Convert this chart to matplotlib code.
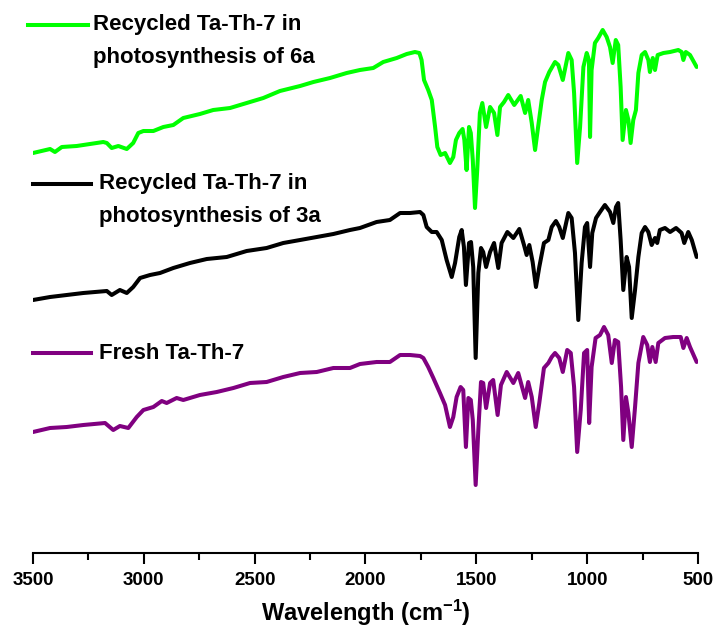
import matplotlib
matplotlib.use("Agg")
import matplotlib.pyplot as plt
from matplotlib.ticker import MultipleLocator
from matplotlib.lines import Line2D

plt.rcParams['font.family'] = ['Liberation Sans', 'DejaVu Sans']
plt.rcParams['font.weight'] = 'bold'
plt.rcParams['mathtext.fontset'] = 'custom'
plt.rcParams['mathtext.rm'] = 'Liberation Sans:bold'
plt.rcParams['mathtext.default'] = 'rm'

# FTIR spectra, wavenumber (cm-1) vs transmittance (arbitrary, offset)
wn_6a = [3500, 3423, 3401, 3370, 3303, 3243, 3183, 3167, 3145, 3115, 3077, 3048, 3025, 3002,
         2957, 2912, 2867, 2822, 2747, 2687, 2611, 2536, 2461, 2386, 2295, 2235, 2160, 2085,
         2025, 1965, 1920, 1859, 1814, 1777, 1757, 1747, 1736, 1717, 1701, 1686, 1676, 1661,
         1641, 1619, 1604, 1592, 1577, 1562, 1554, 1544, 1533, 1525, 1516, 1506, 1496, 1484,
         1473, 1456, 1438, 1420, 1405, 1393, 1375, 1356, 1329, 1300, 1280, 1266, 1250, 1235,
         1225, 1205, 1190, 1171, 1145, 1130, 1110, 1085, 1070, 1059, 1045, 1032, 1017, 1002,
         992, 987, 980, 965, 950, 930, 912, 897, 885, 871, 860, 849, 840, 825, 814, 804, 792,
         780, 769, 754, 739, 724, 717, 704, 694, 682, 656, 626, 589, 574, 566, 555, 536, 506]
tr_6a = [447, 451, 448, 453, 454, 456, 458, 457, 452, 454, 451, 457, 467, 469,
         469, 473, 475, 482, 486, 490, 492, 497, 502, 509, 514, 518, 522, 527,
         530, 532, 538, 542, 546, 548, 547, 540, 520, 510, 500, 473, 453, 445,
         447, 437, 443, 460, 467, 471, 460, 430, 473, 467, 440, 392, 430, 487,
         497, 473, 493, 487, 465, 493, 498, 505, 495, 504, 487, 500, 477, 450,
         467, 500, 518, 528, 538, 535, 520, 547, 540, 507, 437, 473, 533, 547,
         540, 463, 530, 557, 562, 570, 563, 553, 537, 560, 555, 513, 460, 490, 480, 457, 480,
         490, 527, 545, 548, 540, 528, 542, 530, 545, 547, 548, 550, 548, 540, 548, 545, 533]

wn_3a = [3500, 3423, 3348, 3273, 3167, 3145, 3108, 3077, 3048, 3017, 2972, 2927, 2867, 2792,
         2716, 2626, 2536, 2446, 2371, 2295, 2220, 2145, 2070, 2025, 1950, 1890, 1844, 1799,
         1754, 1739, 1724, 1701, 1679, 1656, 1634, 1611, 1596, 1577, 1566, 1556, 1547, 1533,
         1524, 1514, 1503, 1491, 1479, 1469, 1456, 1438, 1420, 1401, 1386, 1360, 1333, 1306,
         1285, 1273, 1261, 1246, 1231, 1216, 1195, 1175, 1160, 1141, 1126, 1110, 1085, 1070,
         1055, 1040, 1025, 1010, 1000, 987, 977, 960, 942, 920, 897, 882, 870, 860, 849, 837,
         822, 811, 799, 784, 769, 754, 739, 724, 709, 694, 684, 672, 649, 626, 599, 574, 562,
         544, 528, 506]
tr_3a = [300, 303, 305, 307, 309, 305, 310, 307, 313, 322, 325, 327, 332, 337,
         341, 343, 349, 352, 357, 360, 363, 366, 370, 372, 378, 380, 387, 387,
         388, 385, 373, 368, 368, 360, 340, 323, 337, 363, 370, 353, 315, 357,
         358, 333, 242, 327, 352, 348, 333, 348, 357, 332, 357, 368, 362, 371,
         355, 345, 355, 338, 313, 333, 357, 360, 373, 379, 373, 362, 387, 382,
         347, 280, 337, 373, 377, 333, 367, 382, 388, 395, 388, 377, 393, 397, 360, 310,
         343, 333, 282, 310, 343, 367, 373, 368, 355, 362, 357, 370, 372, 368, 372, 367, 357,
         368, 360, 343]

wn_fresh = [3500, 3423, 3348, 3273, 3175, 3138, 3108, 3070, 3032, 3002, 2957, 2919, 2897, 2852,
            2822, 2747, 2671, 2596, 2521, 2446, 2371, 2295, 2220, 2145, 2070, 2025, 1950, 1890,
            1844, 1799, 1754, 1739, 1717, 1694, 1664, 1641, 1619, 1604, 1589, 1571, 1559, 1547,
            1536, 1525, 1516, 1503, 1491, 1479, 1469, 1456, 1438, 1424, 1404, 1389, 1363, 1333,
            1311, 1280, 1266, 1250, 1232, 1216, 1195, 1175, 1160, 1145, 1126, 1110, 1090, 1074,
            1059, 1045, 1029, 1014, 1000, 991, 980, 962, 942, 924, 905, 889, 875, 860, 847, 837,
            825, 814, 799, 784, 769, 747, 729, 717, 706, 691, 679, 649, 612, 578, 566, 551, 536,
            506]
tr_fresh = [168, 172, 173, 175, 177, 170, 174, 172, 183, 190, 193, 199, 197, 202,
            200, 205, 208, 212, 217, 218, 223, 227, 228, 232, 232, 236, 238, 238,
            245, 245, 244, 242, 233, 222, 207, 195, 173, 183, 203, 213, 210, 153,
            202, 200, 180, 115, 170, 218, 217, 192, 217, 220, 185, 215, 228, 217,
            227, 202, 218, 203, 173, 197, 232, 237, 243, 247, 242, 228, 250, 247,
            213, 148, 190, 247, 250, 177, 233, 262, 265, 273, 265, 237, 260, 258, 213, 160,
            203, 187, 153, 193, 237, 263, 255, 238, 253, 238, 257, 262, 263, 263, 252, 262, 253,
            238]

labels = [("Recycled Ta-Th-7 in", "photosynthesis of 6a"),
          ("Recycled Ta-Th-7 in", "photosynthesis of 3a"),
          ("Fresh Ta-Th-7",)]
colors = ["#00FF00", "#000000", "#800080"]

fig = plt.figure(figsize=(7.18, 6.34), dpi=100)
ax = fig.add_axes([33 / 718, 81 / 634, 665 / 718, 543 / 634])

series = [(wn_6a, tr_6a), (wn_3a, tr_3a), (wn_fresh, tr_fresh)]
for (wn, tr), c in zip(series, colors):
    ax.plot(wn, tr, color=c, lw=2.9, solid_joinstyle='round', solid_capstyle='round')

ax.set_xlim(3500, 500)
ax.set_ylim(47, 590)
ax.xaxis.set_major_locator(MultipleLocator(500))
ax.xaxis.set_minor_locator(MultipleLocator(250))
ax.tick_params(axis='x', which='major', direction='out', length=8, width=1.5,
               labelsize=13.5, pad=6)
ax.tick_params(axis='x', which='minor', direction='out', length=5, width=1.5)
for lab in ax.get_xticklabels():
    lab.set_fontweight('bold')
ax.set_yticks([])
for side in ['left', 'right', 'top']:
    ax.spines[side].set_visible(False)
ax.spines['bottom'].set_linewidth(1.5)
ax.set_xlabel("Wavelength (cm$^{-1}$)", fontsize=17, fontweight='bold', labelpad=6)

# hand-placed key entries, one per trace
key_pos = [(-0.0075, 0.0827, 0.0902, 0.9724),
           (0.0, 0.0872, 0.0992, 0.6796),
           (0.0, 0.0872, 0.0992, 0.3683)]
for (x0, x1, tx, ty), c, lines in zip(key_pos, colors, labels):
    ax.add_line(Line2D([x0, x1], [ty, ty], color=c, lw=2.9,
                       transform=ax.transAxes, clip_on=False))
    for i, line in enumerate(lines):
        ax.text(tx, ty - i * 0.06, line, transform=ax.transAxes, fontsize=16,
                fontweight='bold', va='center', ha='left')

fig.savefig("out.png", dpi=100, facecolor='white')
